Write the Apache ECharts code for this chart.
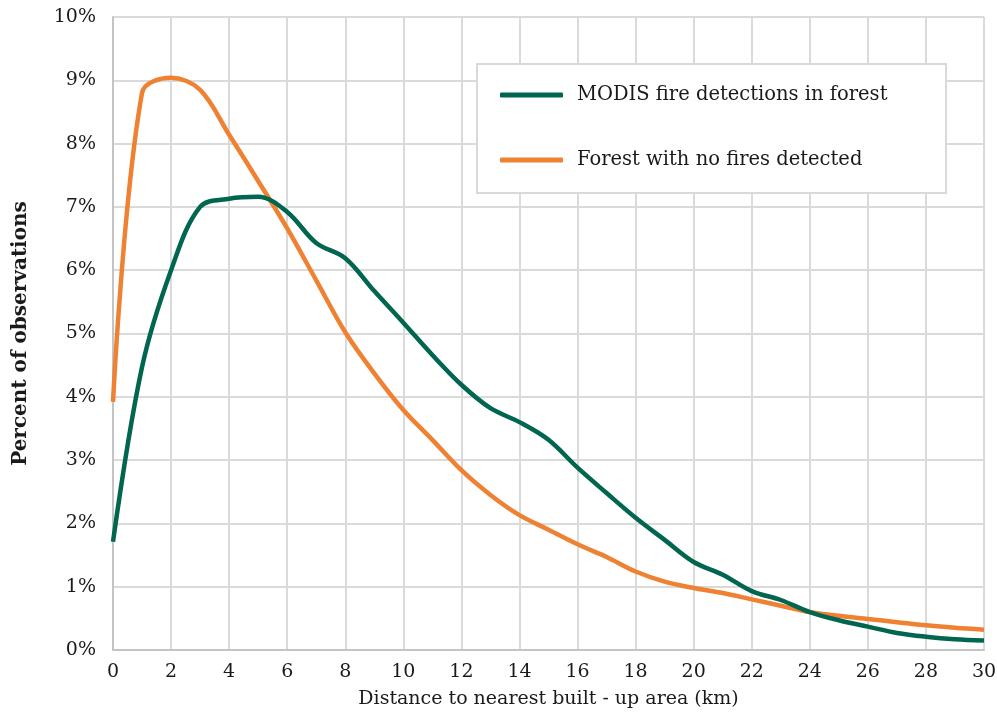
<!DOCTYPE html>
<html>
<head>
<meta charset="utf-8">
<script src="https://cdn.jsdelivr.net/npm/echarts@6/dist/echarts.min.js"></script>
<style>
  html, body { margin: 0; padding: 0; background: #ffffff; }
  #chart { width: 997px; height: 721px; }
</style>
</head>
<body>
<div id="chart"></div>
<script>
const distanceKm = [0,1,2,3,4,5,6,7,8,9,10,11,12,13,14,15,16,17,18,19,20,21,22,23,24,25,26,27,28,29,30];
const modisFire = [1.71,4.47,6.00,7.00,7.13,7.16,6.92,6.43,6.19,5.67,5.17,4.66,4.19,3.82,3.60,3.32,2.88,2.48,2.09,1.74,1.39,1.19,0.93,0.79,0.60,0.47,0.37,0.27,0.21,0.17,0.15];
const noFire = [3.92,8.80,9.04,8.85,8.14,7.41,6.66,5.84,5.02,4.37,3.79,3.32,2.84,2.45,2.13,1.90,1.67,1.47,1.24,1.08,0.98,0.90,0.80,0.70,0.60,0.54,0.49,0.44,0.39,0.35,0.32];
const seriesNames = ["MODIS fire detections in forest", "Forest with no fires detected"];
const xTitle = "Distance to nearest built - up area (km)";
const yTitle = "Percent of observations";

const FONT = "DejaVu Serif";
const chart = echarts.init(document.getElementById('chart'), null, { renderer: 'canvas' });
const toPairs = arr => arr.map((v, i) => [distanceKm[i], v]);

chart.setOption({
  backgroundColor: '#ffffff',
  animation: false,
  textStyle: { fontFamily: FONT, color: '#1a1a1a' },
  grid: { left: 113, right: 13, top: 17, bottom: 71, containLabel: false, outerBoundsMode: 'none' },
  graphic: [{
    type: 'rect', z: 3,
    shape: { x: 477, y: 64, width: 469, height: 129 },
    style: { fill: '#ffffff', stroke: '#d9d9d9', lineWidth: 2 }
  }],
  legend: {
    orient: 'vertical', left: 500, top: 83, z: 5, padding: 0,
    itemWidth: 63, itemHeight: 5, itemGap: 41,
    icon: 'roundRect',
    textStyle: { fontFamily: FONT, fontSize: 19.5, color: '#1a1a1a', padding: [0, 0, 0, 9], lineHeight: 24 },
    data: seriesNames
  },
  xAxis: {
    type: 'value', min: 0, max: 30, interval: 2,
    name: xTitle, nameLocation: 'middle', nameGap: 40,
    nameTextStyle: { fontFamily: FONT, fontSize: 19, color: '#1a1a1a' },
    axisLine: { show: true, lineStyle: { color: '#c4c4c4', width: 2 } },
    axisTick: { show: false },
    axisLabel: { fontFamily: FONT, fontSize: 19, color: '#1a1a1a', margin: 13 },
    splitLine: { show: true, lineStyle: { color: '#dadada', width: 2 } }
  },
  yAxis: {
    type: 'value', min: 0, max: 10, interval: 1,
    name: yTitle, nameLocation: 'middle', nameGap: 82, nameRotate: 90,
    nameTextStyle: { fontFamily: FONT, fontSize: 20, fontWeight: 'bold', color: '#1a1a1a' },
    axisLine: { show: true, lineStyle: { color: '#c4c4c4', width: 2 } },
    axisTick: { show: false },
    axisLabel: { fontFamily: FONT, fontSize: 19, color: '#1a1a1a', margin: 17, formatter: '{value}%' },
    splitLine: { show: true, lineStyle: { color: '#dadada', width: 2 } }
  },
  series: [
    { name: seriesNames[0], type: 'line', data: toPairs(modisFire), smooth: 0.35, showSymbol: false, symbol: 'none',
      lineStyle: { color: '#00664f', width: 4.5 }, itemStyle: { color: '#00664f' }, z: 3 },
    { name: seriesNames[1], type: 'line', data: toPairs(noFire), smooth: 0.35, showSymbol: false, symbol: 'none',
      lineStyle: { color: '#ef8133', width: 4.5 }, itemStyle: { color: '#ef8133' }, z: 2 }
  ]
});
</script>
</body>
</html>
